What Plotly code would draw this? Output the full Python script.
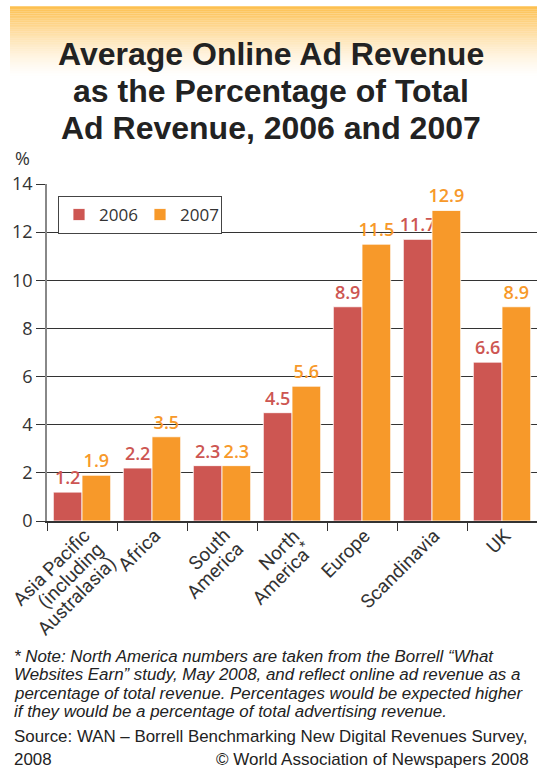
import plotly.graph_objects as go

categories = ["Asia Pacific<br>(including<br>Australasia)", "Africa", "South<br>America",
              "North<br>America<sup>*</sup>", "Europe", "Scandinavia", "UK"]
vals_2006 = [1.2, 2.2, 2.3, 4.5, 8.9, 11.7, 6.6]
vals_2007 = [1.9, 3.5, 2.3, 5.6, 11.5, 12.9, 8.9]
series_names = ["2006", "2007"]
y_ticks = [0, 2, 4, 6, 8, 10, 12, 14]

W, H = 537, 772
L, R, T, B = 47, 0, 184, 772 - 521.5

C06 = "#CD5652"
C07 = "#F7992A"
TXT = "#333333"

def py(p):  # pixel y -> paper y
    return (H - B - p) / (H - T - B)

def px(p):
    return (p - L) / (W - L - R)

fig = go.Figure()
for name, vals, col in [(series_names[0], vals_2006, C06), (series_names[1], vals_2007, C07)]:
    fig.add_trace(go.Bar(
        x=categories, y=vals, name=name,
        marker=dict(color=col, line=dict(color="white", width=0.8)),
        text=[f"{v:.1f}" for v in vals], textposition="outside", constraintext="none",
        textfont=dict(color=col, size=18, family="Open Sans", weight=600),
        cliponaxis=False,
    ))

shapes = []
# gradient header band
n = 40
y0, y1 = 6, 78
for i in range(n):
    a = 1 - i / n
    ya = y0 + (y1 - y0) * i / n
    yb = y0 + (y1 - y0) * (i + 1) / n
    shapes.append(dict(type="rect", xref="paper", yref="paper",
                       x0=px(10), x1=px(537), y0=py(yb), y1=py(ya),
                       fillcolor=f"rgba(253,192,80,{a**1.5:.3f})", line=dict(width=0),
                       layer="below"))

annotations = []
# rotated category labels, one annotation per line for tight line spacing
for i, cat in enumerate(categories):
    for j, line in enumerate(cat.split("<br>")):
        annotations.append(dict(text=line, x=i, y=0, xref="x", yref="y",
                                showarrow=False, textangle=-45, xanchor="right", yanchor="top",
                                xshift=14 + 13.5 * j, yshift=-2 - 13.5 * j, borderpad=0,
                                font=dict(family="Roboto", size=19, color=TXT)))

title_lines = ["Average Online Ad Revenue", "as the Percentage of Total", "Ad Revenue, 2006 and 2007"]
for i, t in enumerate(title_lines):
    annotations.append(dict(text=f"<b>{t}</b>", x=px(271), y=py(54 + 37 * i), xref="paper", yref="paper",
                            showarrow=False, xanchor="center", yanchor="middle",
                            font=dict(family="Liberation Sans", size=32, color="#222222")))
annotations.append(dict(text="%", x=px(13), y=py(158), xref="paper", yref="paper", showarrow=False,
                        xanchor="left", yanchor="middle", font=dict(family="Open Sans", size=18, color=TXT)))

notes = ["* Note: North America numbers are taken from the Borrell “What",
         "Websites Earn” study, May 2008, and reflect online ad revenue as a",
         "percentage of total revenue. Percentages would be expected higher",
         "if they would be a percentage of total advertising revenue."]
for i, t in enumerate(notes):
    annotations.append(dict(text=f"<i>{t}</i>", x=px(12), y=py(657 + 18.5 * i), xref="paper", yref="paper",
                            showarrow=False, xanchor="left", yanchor="middle",
                            font=dict(family="Liberation Sans", size=16.9, color="#222222")))
annotations.append(dict(text="Source: WAN – Borrell Benchmarking New Digital Revenues Survey,", x=px(12), y=py(737),
                        xref="paper", yref="paper", showarrow=False, xanchor="left", yanchor="middle",
                        font=dict(family="Liberation Sans", size=16.9, color="#222222")))
annotations.append(dict(text="2008", x=px(12), y=py(760),
                        xref="paper", yref="paper", showarrow=False, xanchor="left", yanchor="middle",
                        font=dict(family="Liberation Sans", size=16.9, color="#222222")))
annotations.append(dict(text="© World Association of Newspapers 2008", x=px(531), y=py(760),
                        xref="paper", yref="paper", showarrow=False, xanchor="right", yanchor="middle",
                        font=dict(family="Liberation Sans", size=17, color="#222222")))

fig.update_layout(
    width=W, height=H, margin=dict(l=L, r=R, t=T, b=B, pad=0),
    paper_bgcolor="white", plot_bgcolor="white",
    barmode="group", bargap=0.18, bargroupgap=0,
    showlegend=True,
    legend=dict(orientation="h", x=px(58), y=py(196), xanchor="left", yanchor="top",
                bordercolor="#444444", borderwidth=1, bgcolor="white",
                font=dict(family="Open Sans", size=17, color=TXT),
                itemwidth=30, entrywidth=36, tracegroupgap=0),
    shapes=shapes, annotations=annotations,
    xaxis=dict(tickmode="array", tickvals=categories, ticktext=[""] * len(categories),
               range=[-0.5, len(categories) - 0.5],
               ticks="outside", ticklen=8, tickcolor=TXT, tickwidth=1.2, tickson="boundaries",
               showline=True, linecolor=TXT, linewidth=1.5, showgrid=False),
    yaxis=dict(range=[0, 14], tickvals=y_ticks, tickfont=dict(family="Open Sans", size=18, color=TXT),
               ticks="outside", ticklen=9, tickcolor=TXT, tickwidth=1.2,
               showgrid=True, gridcolor=TXT, gridwidth=1.2,
               showline=True, linecolor="#888888", linewidth=1.5, zeroline=False),
)

fig.write_html("out.html")
